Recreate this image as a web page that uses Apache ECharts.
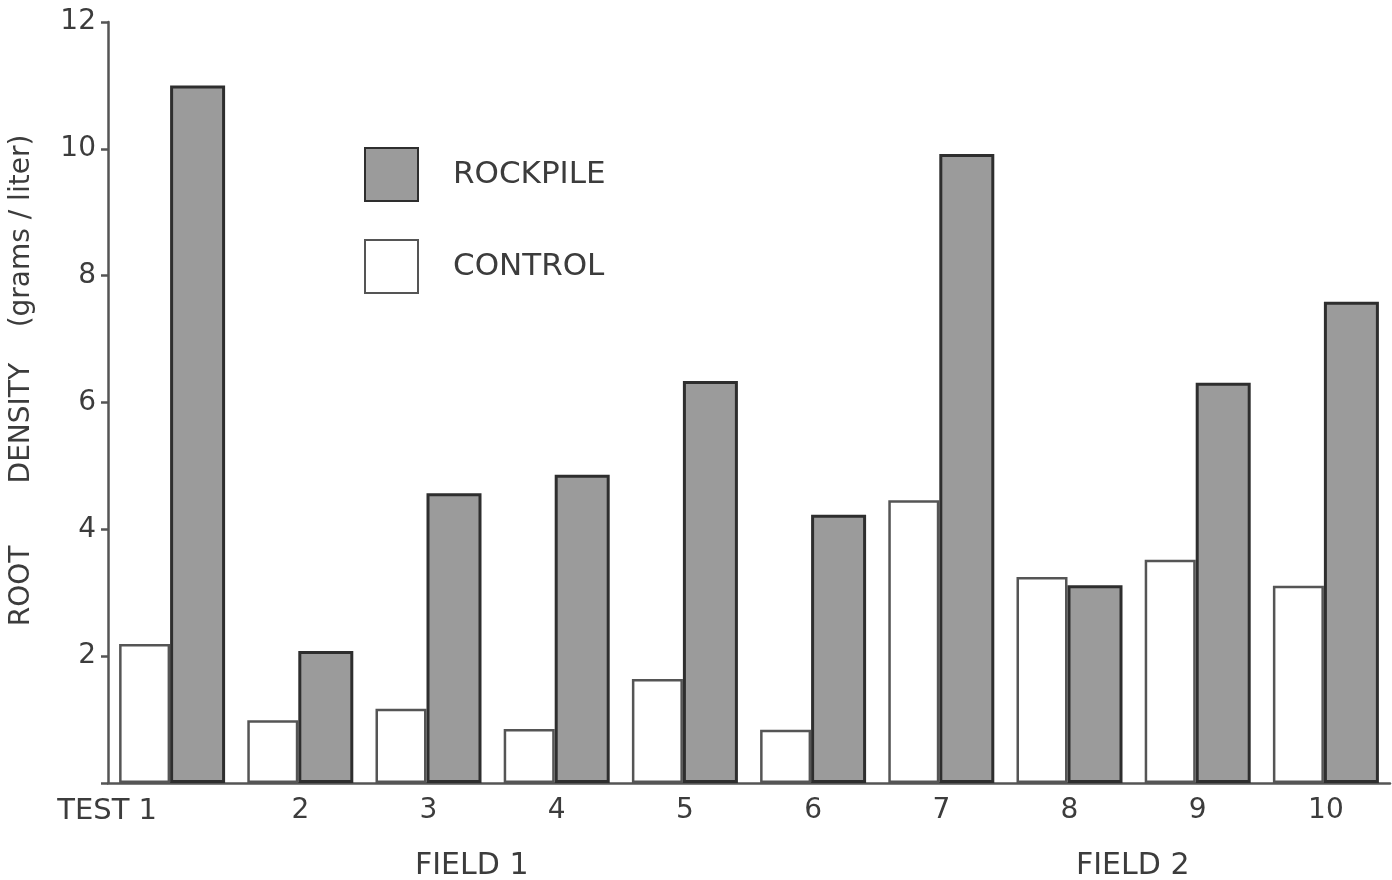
<!DOCTYPE html>
<html>
<head>
<meta charset="utf-8">
<script src="https://cdn.jsdelivr.net/npm/echarts@6/dist/echarts.min.js"></script>
<style>
html,body{margin:0;padding:0;background:#fff;}
#chart{width:1392px;height:880px;}
</style>
</head>
<body>
<div id="chart"></div>
<script>
// Data
const categories = ['TEST 1', '2', '3', '4', '5', '6', '7', '8', '9', '10'];
const controlValues = [2.19, 0.99, 1.17, 0.85, 1.64, 0.84, 4.46, 3.25, 3.52, 3.11];
const rockpileValues = [11.0, 2.08, 4.57, 4.86, 6.34, 4.23, 9.92, 3.12, 6.31, 7.59];
const yTicks = [0, 2, 4, 6, 8, 10, 12];
const groupLabels = ['FIELD 1', 'FIELD 2'];

const FONT = '"DejaVu Sans", sans-serif';
const TXT = '#3c3c3c';
const AX = '#555555';

const chart = echarts.init(document.getElementById('chart'), null, {renderer: 'canvas'});
chart.setOption({
  backgroundColor: '#ffffff',
  animation: false,
  textStyle: {fontFamily: FONT, color: TXT},
  grid: {left: 105, right: 2, top: 22, bottom: 97, containLabel: false},
  legend: {
    orient: 'vertical',
    left: 359,
    top: 142,
    itemWidth: 53,
    itemHeight: 53,
    itemGap: 37,
    icon: 'rect',
    data: ['ROCKPILE', 'CONTROL'],
    textStyle: {fontFamily: FONT, fontSize: 31, color: TXT, padding: [0, 0, 0, 30]}
  },
  xAxis: {
    type: 'category',
    data: categories,
    axisLine: {lineStyle: {color: AX, width: 2.5}},
    axisTick: {show: false},
    axisLabel: {
      interval: 0,
      fontFamily: FONT, fontSize: 28, color: TXT, margin: 14,
      formatter: function (v, i) {
        if (i === 0) { return '{t|' + v + '}'; }
        return v;
      },
      rich: {t: {fontFamily: FONT, fontSize: 29, color: TXT, padding: [0, 130, 0, 0]}}
    }
  },
  yAxis: {
    type: 'value',
    min: yTicks[0],
    max: yTicks[yTicks.length - 1],
    interval: 2,
    name: 'ROOT       DENSITY    (grams / liter)',
    nameLocation: 'middle',
    nameRotate: 90,
    nameGap: 72,
    nameTextStyle: {fontFamily: FONT, fontSize: 28, color: TXT, padding: [0, 0, 0, 44]},
    axisLine: {show: true, lineStyle: {color: AX, width: 2.5}},
    axisTick: {show: true, length: 7, lineStyle: {color: AX, width: 2.5}},
    splitLine: {show: false},
    axisLabel: {
      fontFamily: FONT, fontSize: 28, color: TXT, margin: 12,
      formatter: function (v) { return v === 0 ? '' : String(v); }
    }
  },
  graphic: [
    {type: 'text', left: 415, top: 851, style: {text: groupLabels[0], font: '30px ' + FONT, fill: TXT}},
    {type: 'text', left: 1076, top: 851, style: {text: groupLabels[1], font: '30px ' + FONT, fill: TXT}}
  ],
  series: [
    {
      name: 'CONTROL',
      type: 'bar',
      data: controlValues,
      barWidth: 51,
      barGap: '0%',
      itemStyle: {color: '#ffffff', borderColor: AX, borderWidth: 2.5}
    },
    {
      name: 'ROCKPILE',
      type: 'bar',
      data: rockpileValues,
      barWidth: 55,
      barGap: '0%',
      itemStyle: {color: '#9b9b9b', borderColor: '#2e2e2e', borderWidth: 3}
    }
  ]
});
</script>
</body>
</html>
